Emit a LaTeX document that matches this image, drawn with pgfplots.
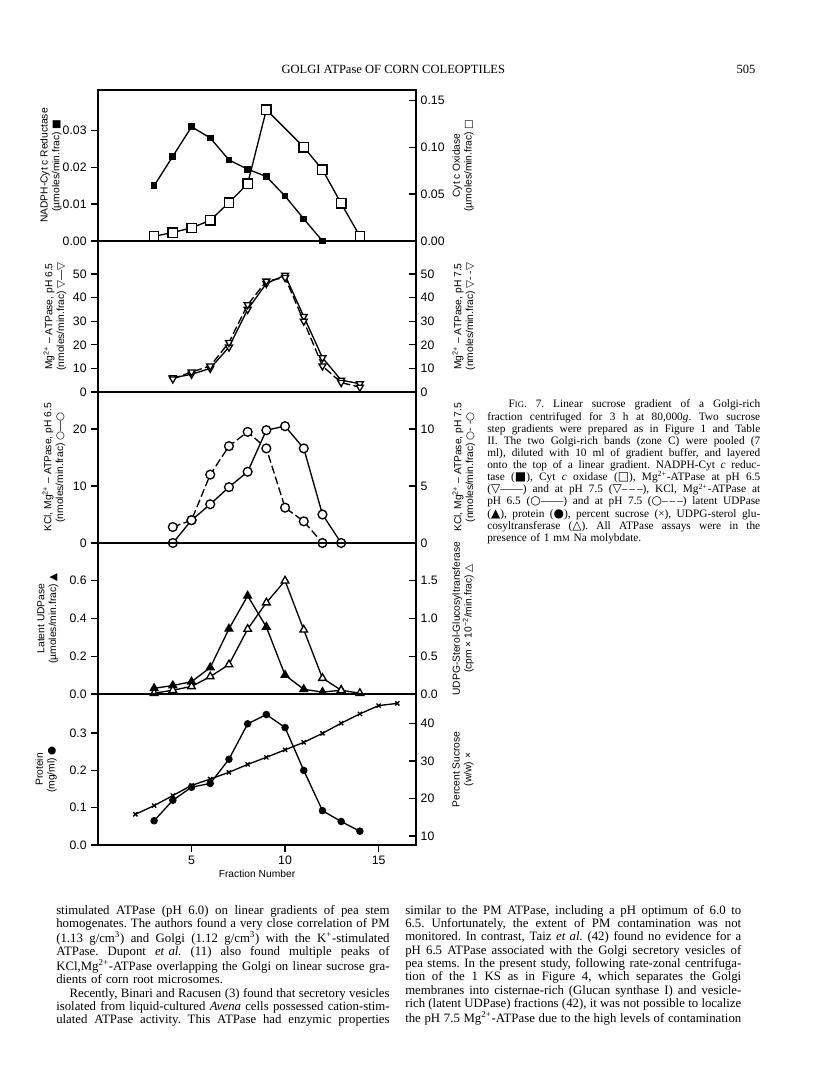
\documentclass[border=0pt]{standalone}
\usepackage{fontspec}
\setmainfont{Liberation Serif}
\newfontfamily\chartfont{Liberation Sans}
\newfontfamily\symf{DejaVu Sans}
\usepackage{pgfplots}
\pgfplotsset{compat=1.18}

\newcommand{\tf}{\chartfont\fontsize{9.2}{9.5}\selectfont}
\newcommand{\lf}{\chartfont\fontsize{7.7}{8.8}\selectfont}
\newcommand{\sm}[1]{{\fontsize{6.5}{7}\selectfont #1}}
% one justified line: the words of #2 spread over the width #1
\makeatletter
\def\jl@a#1 #2\jl@end{#1\ifx\relax#2\relax\else\hfill\jl@a#2\jl@end\fi}
\newcommand{\jline}[2]{\hbox to #1{\jl@a#2 \jl@end}}
\makeatother
\newcommand{\lc}[1]{\jline{250pt}{#1}}
\newcommand{\rc}[1]{\jline{252pt}{#1}}
\newcommand{\cc}[1]{\jline{204.75pt}{#1}}

\pgfplotsset{
  panel/.style={scale only axis, width=238.5pt, height=113.25pt,
    xmin=0, xmax=17, anchor=south west, clip=false,
    scaled y ticks=false, scaled x ticks=false,
    axis line style={-, line width=1.1pt},
    major tick style={line width=1pt, black}, major tick length=5pt,
    tick label style={font=\tf}, xtick=\empty,
    every axis plot/.append style={line width=1pt, black}},
  lax/.style={panel, ytick pos=left, tick align=outside,
    every axis y label/.style={at={(axis description cs:#1,0.5)}, rotate=90,
      anchor=south, font=\lf, align=center}},
  rax/.style={panel, axis y line*=right, axis x line=none, tick align=inside,
    every axis y label/.style={at={(axis description cs:1.10,0.5)}, rotate=90,
      anchor=north, font=\lf, align=center}},
  dsh/.style={dash pattern=on 6pt off 2.5pt},
  osq/.style={mark=square*, mark size=3.5pt, mark options={fill=white, solid}},
  fsq/.style={mark=square*, mark size=2pt},
  otd/.style={mark=triangle*, mark size=3pt, mark options={fill=white, rotate=180, solid}},
  oci/.style={mark=*, mark size=3.3pt, mark options={fill=white, solid}},
  ftr/.style={mark=triangle*, mark size=3.3pt},
  otr/.style={mark=triangle*, mark size=3.3pt, mark options={fill=white}},
  fci/.style={mark=*, mark size=2.3pt},
  xmk/.style={mark=x, mark size=2.2pt}
}

\begin{document}
\begin{tikzpicture}
\path[use as bounding box, fill=white] (0,0) rectangle (612pt,804.75pt);

% page header
\node[font=\fontsize{9.4}{10}\selectfont] at (295pt,753pt) {GOLGI ATPase OF CORN COLEOPTILES};
\node[font=\fontsize{9.4}{10}\selectfont] at (559.5pt,753pt) {505};

% panel 1
\begin{axis}[lax=-0.1, at={(73.5pt,624pt)}, ymin=0, ymax=0.041,
  ytick={0,0.01,0.02,0.03}, yticklabels={0.00,0.01,0.02,0.03},
  ylabel={NADPH-Cyt c Reductase\\(µmoles/min.frac) {\symf ■}}]
\addplot[fsq] coordinates {(3,0.015)(4,0.023)(5,0.031)(6,0.028)(7,0.022)(8,0.0195)(9,0.0175)(10,0.0122)(11,0.006)(12,0)};
\end{axis}
\begin{axis}[rax, at={(73.5pt,624pt)}, ymin=0, ymax=0.161,
  ytick={0,0.05,0.10,0.15}, yticklabels={0.00,0.05,0.10,0.15},
  ylabel={Cyt c Oxidase\\(µmoles/min.frac) {\symf □}}]
\addplot[osq] coordinates {(3,0.005)(4,0.009)(5,0.014)(6,0.022)(7,0.041)(8,0.061)(9,0.14)(11,0.10)(12,0.076)(13,0.04)(14,0.005)};
\end{axis}

% panel 2
\begin{axis}[lax=-0.085, at={(73.5pt,510.75pt)}, ymin=0, ymax=64,
  ytick={0,10,20,30,40,50}, yticklabels={0,10,20,30,40,50},
  ylabel={Mg\textsuperscript{2+} – ATPase, pH 6.5\\(nmoles/min.frac) {\symf ▽}—{\symf ▽}}]
\addplot[otd] coordinates {(4,6)(5,7.5)(6,10)(7,19)(8,35)(9,46)(10,49.5)(11,32)(12,14.5)(13,5)(14,3.5)};
\end{axis}
\begin{axis}[rax, at={(73.5pt,510.75pt)}, ymin=0, ymax=64,
  ytick={0,10,20,30,40,50}, yticklabels={0,10,20,30,40,50},
  ylabel={Mg\textsuperscript{2+} – ATPase, pH 7.5\\(nmoles/min.frac) {\symf ▽}- -{\symf ▽}}]
\addplot[otd, dsh] coordinates {(4,5.5)(5,8.5)(6,11)(7,21)(8,37)(9,47)(10,48.5)(11,30)(12,11)(13,4)(14,2)};
\end{axis}

% panel 3
\begin{axis}[lax=-0.088, at={(73.5pt,397.5pt)}, ymin=0, ymax=26.5,
  ytick={0,10,20}, yticklabels={0,10,20},
  ylabel={KCl, Mg\textsuperscript{2+} – ATPase, pH 6.5\\(nmoles/min.frac) {\symf ○}—{\symf ○}}]
\addplot[oci] coordinates {(4,0)(5,4)(6,6.8)(7,9.8)(8,12.5)(9,19.8)(10,20.5)(11,16.6)(12,5)(13,0)};
\end{axis}
\begin{axis}[rax, at={(73.5pt,397.5pt)}, ymin=0, ymax=13.25,
  ytick={0,5,10}, yticklabels={0,5,10},
  ylabel={KCl, Mg\textsuperscript{2+} – ATPase, pH 7.5\\(nmoles/min.frac) {\symf ○}- -{\symf ○}}]
\addplot[oci, dsh] coordinates {(4,1.4)(5,2.0)(6,6.0)(7,8.5)(8,9.75)(9,8.3)(10,3.1)(11,1.9)(12,0)};
\end{axis}

% panel 4
\begin{axis}[lax=-0.11, at={(73.5pt,284.25pt)}, ymin=0, ymax=0.8,
  ytick={0,0.2,0.4,0.6}, yticklabels={0.0,0.2,0.4,0.6},
  ylabel={Latent UDPase\\(µmoles/min.frac) {\symf ▲}}]
\addplot[ftr] coordinates {(3,0.03)(4,0.045)(5,0.065)(6,0.14)(7,0.345)(8,0.52)(9,0.355)(10,0.10)(11,0.025)(12,0.01)(13,0.02)};
\end{axis}
\begin{axis}[rax, at={(73.5pt,284.25pt)}, ymin=0, ymax=2.0,
  ytick={0,0.5,1.0,1.5}, yticklabels={0.0,0.5,1.0,1.5},
  ylabel={UDPG-Sterol-Glucosyltransferase\\(cpm × 10\textsuperscript{−2}/min.frac) {\symf △}}]
\addplot[otr] coordinates {(3,0.01)(4,0.05)(5,0.1)(6,0.23)(7,0.39)(8,0.86)(9,1.21)(10,1.5)(11,0.85)(12,0.21)(13,0.05)(14,0.01)};
\end{axis}

% panel 5
\begin{axis}[lax=-0.115, at={(73.5pt,171pt)}, ymin=0, ymax=0.405,
  ytick={0,0.1,0.2,0.3}, yticklabels={0.0,0.1,0.2,0.3},
  xtick={5,10,15}, xticklabels={5,10,15}, xtick pos=bottom,
  xlabel={Fraction Number}, xlabel style={font=\lf, yshift=3pt},
  ylabel={Protein\\(mg/ml) {\symf ●}}]
\addplot[fci] coordinates {(3,0.065)(4,0.12)(5,0.155)(6,0.165)(7,0.23)(8,0.325)(9,0.35)(10,0.315)(11,0.2)(12,0.092)(13,0.063)(14,0.037)};
\end{axis}
\begin{axis}[rax, at={(73.5pt,171pt)}, ymin=7.6, ymax=47.9,
  ytick={10,20,30,40}, yticklabels={10,20,30,40},
  ylabel={Percent Sucrose\\(w/w) ×}]
\addplot[xmk] coordinates {(2,15.8)(3,18.1)(4,20.8)(5,23.5)(6,25.2)(7,27)(8,29.1)(9,31)(10,33)(11,35)(12,37.4)(13,40.1)(14,42.6)(15,44.8)(16,45.4)};
\end{axis}

% caption
\node[anchor=north west, inner sep=0pt, text width=204.75pt,
  font=\fontsize{8.5}{9.1}\selectfont] at (365.25pt,505pt) {%
\cc{\hspace{16pt}F\sm{IG}. 7. Linear sucrose gradient of a Golgi-rich}
\cc{fraction centrifuged for 3 h at 80,000\textit{g}. Two sucrose}
\cc{step gradients were prepared as in Figure 1 and Table}
\cc{II. The two Golgi-rich bands (zone C) were pooled (7}
\cc{ml), diluted with 10 ml of gradient buffer, and layered}
\cc{onto the top of a linear gradient. NADPH-Cyt \textit{c} reduc-}
\cc{tase ({\symf\small ■}), Cyt \textit{c} oxidase ({\symf\small □}), Mg\textsuperscript{2+}-ATPase at pH 6.5}
\cc{({\symf\small ▽}——) and at pH 7.5 ({\symf\small ▽}--\,--\,--), KCl, Mg\textsuperscript{2+}-ATPase at}
\cc{pH 6.5 ({\symf\small ○}——) and at pH 7.5 ({\symf\small ○}--\,--\,--) latent UDPase}
\cc{({\symf\small ▲}), protein ({\symf\small ●}), percent sucrose (×), UDPG-sterol glu-}
\cc{cosyltransferase ({\symf\small △}). All ATPase assays were in the}
\hbox{presence of 1 m\sm{M} Na molybdate.}};

% body text, left column
\node[anchor=north west, inner sep=0pt, text width=250pt,
  font=\fontsize{9.6}{10}\selectfont] at (42pt,126pt) {%
\lc{stimulated ATPase (pH 6.0) on linear gradients of pea stem}
\lc{homogenates. The authors found a very close correlation of PM}
\lc{(1.13 g/cm\textsuperscript{3}) and Golgi (1.12 g/cm\textsuperscript{3}) with the K\textsuperscript{+}-stimulated}
\lc{ATPase. Dupont \textit{et~al.} (11) also found multiple peaks of}
\lc{KCl,Mg\textsuperscript{2+}-ATPase overlapping the Golgi on linear sucrose gra-}
\hbox{dients of corn root microsomes.}
\lc{\hspace{10pt}Recently, Binari and Racusen (3) found that secretory vesicles}
\lc{isolated from liquid-cultured \textit{Avena} cells possessed cation-stim-}
\lc{ulated ATPase activity. This ATPase had enzymic properties}};

% body text, right column
\node[anchor=north west, inner sep=0pt, text width=252pt,
  font=\fontsize{9.6}{10}\selectfont] at (303.75pt,126pt) {%
\rc{similar to the PM ATPase, including a pH optimum of 6.0 to}
\rc{6.5. Unfortunately, the extent of PM contamination was not}
\rc{monitored. In contrast, Taiz \textit{et~al.} (42) found no evidence for a}
\rc{pH 6.5 ATPase associated with the Golgi secretory vesicles of}
\rc{pea stems. In the present study, following rate-zonal centrifuga-}
\rc{tion of the 1 KS as in Figure 4, which separates the Golgi}
\rc{membranes into cisternae-rich (Glucan synthase I) and vesicle-}
\rc{rich (latent UDPase) fractions (42), it was not possible to localize}
\rc{the pH 7.5 Mg\textsuperscript{2+}-ATPase due to the high levels of contamination}};
\end{tikzpicture}
\end{document}
